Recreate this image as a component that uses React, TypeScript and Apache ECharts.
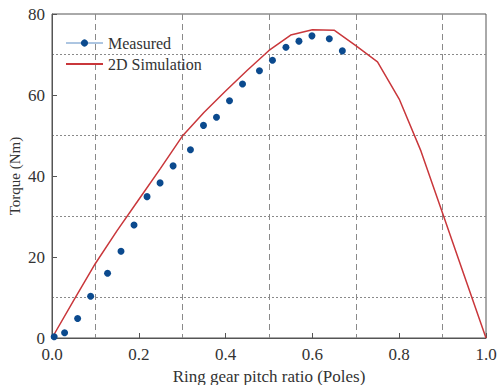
import React, { useEffect, useRef } from "react";
import * as echarts from "echarts";

const measX = [0.005, 0.029, 0.059, 0.089, 0.128, 0.159, 0.189, 0.219, 0.249, 0.279, 0.319, 0.349, 0.379, 0.409, 0.439, 0.478, 0.508, 0.539, 0.569, 0.599, 0.639, 0.669];
const measY = [0.3, 1.3, 4.8, 10.3, 16.0, 21.4, 27.9, 34.9, 38.3, 42.5, 46.5, 52.5, 54.5, 58.6, 62.7, 66.0, 68.6, 71.8, 73.3, 74.6, 73.9, 70.9];

const simX = [0, 0.05, 0.1, 0.15, 0.2, 0.25, 0.3, 0.35, 0.4, 0.45, 0.5, 0.55, 0.6, 0.65, 0.7, 0.75, 0.8, 0.85, 0.9, 0.95, 1.0];
const simY = [0, 9.3, 18.4, 26.5, 34.2, 41.9, 49.8, 55.7, 61.0, 66.1, 71.0, 74.8, 76.1, 76.0, 72.2, 68.2, 59.0, 46.2, 30.8, 15.4, 0];

const seriesNames = ["Measured", "2D Simulation"];
const xTitle = "Ring gear pitch ratio (Poles)";
const yTitle = "Torque (Nm)";

const FONT = '"Liberation Serif", "Times New Roman", serif';

export default function App() {
  const ref = useRef<HTMLDivElement>(null);
  useEffect(() => {
    if (!ref.current) return;
    const chart = echarts.init(ref.current, undefined, { renderer: "svg" });
    const axisColor = "#555";
    const textColor = "#333";
    chart.setOption({
      animation: false,
      grid: {
        left: 52,
        right: 17,
        top: 14,
        bottom: 47,
        show: true,
        borderColor: axisColor,
        borderWidth: 1,
        outerBoundsMode: "none",
        containLabel: false,
      },
      legend: {
        left: 60,
        top: 30,
        orient: "vertical",
        itemWidth: 37,
        itemHeight: 9,
        itemGap: 5,
        textStyle: { fontSize: 16, color: textColor, fontFamily: FONT },
        data: [
          { name: seriesNames[0], lineStyle: { opacity: 1, width: 1, color: "#5b8cc4" } },
          { name: seriesNames[1], itemStyle: { opacity: 0 } },
        ],
      },
      xAxis: {
        type: "value",
        min: 0,
        max: 1,
        interval: 0.2,
        name: xTitle,
        nameLocation: "middle",
        nameGap: 30,
        nameMoveOverlap: false,
        nameTextStyle: { fontSize: 17, color: textColor, fontFamily: FONT },
        axisLine: { lineStyle: { color: axisColor, width: 1 } },
        axisTick: { inside: true, length: 5, lineStyle: { color: axisColor } },
        axisLabel: {
          fontSize: 17,
          color: textColor,
          fontFamily: FONT,
          margin: 8,
          formatter: (v: number) => v.toFixed(1),
        },
        splitLine: { show: false },
        minorTick: { show: false, splitNumber: 2 },
        minorSplitLine: { show: true, lineStyle: { color: "#8a8a8a", width: 1, type: [6, 4] } },
      },
      yAxis: {
        type: "value",
        min: 0,
        max: 80,
        interval: 20,
        name: yTitle,
        nameLocation: "middle",
        nameGap: 30,
        nameMoveOverlap: false,
        nameTextStyle: { fontSize: 15, color: textColor, fontFamily: FONT },
        axisLine: { show: true, lineStyle: { color: axisColor, width: 1 } },
        axisTick: { show: true, inside: true, length: 5, lineStyle: { color: axisColor } },
        axisLabel: { fontSize: 17, color: textColor, fontFamily: FONT, margin: 7 },
        splitLine: { show: false },
        minorTick: { show: false, splitNumber: 2 },
        minorSplitLine: { show: true, lineStyle: { color: "#8a8a8a", width: 1, type: [2, 2] } },
      },
      series: [
        {
          name: seriesNames[0],
          type: "line",
          data: measX.map((x, i) => [x, measY[i]]),
          symbol: "circle",
          symbolSize: 7,
          itemStyle: { color: "#0b4a8e" },
          lineStyle: { opacity: 0, width: 1, color: "#5b8cc4" },
          z: 3,
        },
        {
          name: seriesNames[1],
          type: "line",
          data: simX.map((x, i) => [x, simY[i]]),
          symbol: "none",
          lineStyle: { color: "#c9373b", width: 1.5 },
          itemStyle: { color: "#c9373b" },
          z: 2,
        },
      ],
    });
    return () => chart.dispose();
  }, []);
  return <div ref={ref} style={{ width: 503, height: 385, position: "absolute", left: 0, top: 0 }} />;
}
